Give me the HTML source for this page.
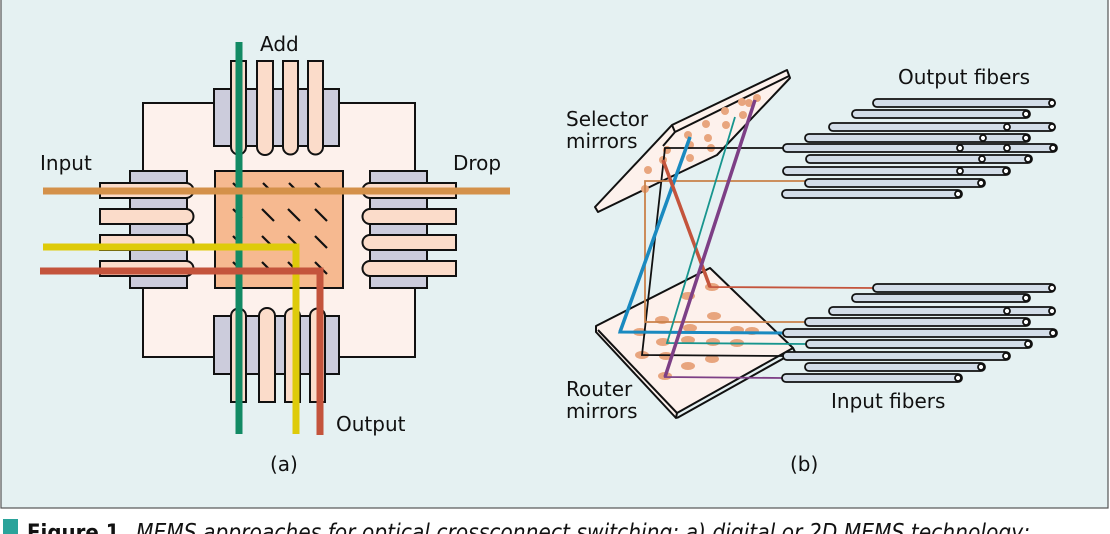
<!DOCTYPE html>
<html><head><meta charset="utf-8"><style>
html,body{margin:0;padding:0;background:#fff;}
svg{display:block}
text{font-family:"DejaVu Sans","Liberation Sans",sans-serif;}
</style></head><body>
<svg width="1110" height="534" viewBox="0 0 1110 534" xmlns="http://www.w3.org/2000/svg">
<rect x="1" y="-2" width="1107" height="510" fill="#e5f1f2" stroke="#555" stroke-width="1.2"/>
<!-- (a) -->
<g stroke="#111" stroke-width="2">
<rect x="143" y="103" width="272" height="254" fill="#fdf1ec"/>
<rect x="214" y="89" width="125" height="57" fill="#ccccdc"/>
<g fill="#fbdcca">
<path d="M231 61h15v86a7.5 7.5 0 0 1-15 0z"/><path d="M257 61h16v86a8 8 0 0 1-16 0z"/><path d="M283 61h15v86a7.5 7.5 0 0 1-15 0z"/><path d="M308 61h15v86a7.5 7.5 0 0 1-15 0z"/>
</g>
<rect x="214" y="316" width="125" height="58" fill="#ccccdc"/>
<g fill="#fbdcca">
<path d="M231 402h15v-86a7.5 7.5 0 0 0-15 0z"/><path d="M259 402h16v-86a8 8 0 0 0-16 0z"/><path d="M285 402h15v-86a7.5 7.5 0 0 0-15 0z"/><path d="M310 402h15v-86a7.5 7.5 0 0 0-15 0z"/>
</g>
<rect x="130" y="171" width="57" height="117" fill="#ccccdc"/>
<g fill="#fbdcca">
<path d="M100 183h86a7.5 7.5 0 0 1 0 15h-86z"/><path d="M100 209h86a7.5 7.5 0 0 1 0 15h-86z"/><path d="M100 235h86a7.5 7.5 0 0 1 0 15h-86z"/><path d="M100 261h86a7.5 7.5 0 0 1 0 15h-86z"/>
</g>
<rect x="370" y="171" width="57" height="117" fill="#ccccdc"/>
<g fill="#fbdcca">
<path d="M456 183h-86a7.5 7.5 0 0 0 0 15h86z"/><path d="M456 209h-86a7.5 7.5 0 0 0 0 15h86z"/><path d="M456 235h-86a7.5 7.5 0 0 0 0 15h86z"/><path d="M456 261h-86a7.5 7.5 0 0 0 0 15h86z"/>
</g>
<rect x="215" y="171" width="128" height="117" fill="#f6b990"/>
</g>
<g stroke="#111" stroke-width="2.2">
<path d="M233 183l9 9M263 183l9 9M289 183l9 9M315 183l9 9
M233 209l9 9M262 209l12 12M288 209l12 12M315 209l12 12
M233 236l9 9M262 236l9 9M288 236l9 9M315 236l12 12
M233 262l9 9M262 262l9 9M288 262l9 9M315 262l12 12"/>
</g>
<line x1="239" y1="42" x2="239" y2="434" stroke="#128a64" stroke-width="7"/>
<line x1="43" y1="191" x2="510" y2="191" stroke="#d4914a" stroke-width="7"/>
<polyline points="43,247 296,247 296,434" fill="none" stroke="#decb0a" stroke-width="7"/>
<polyline points="40,271 320,271 320,435" fill="none" stroke="#c4543c" stroke-width="7"/>
<g font-size="20" fill="#111">
<text x="260" y="51">Add</text>
<text x="40" y="170">Input</text>
<text x="453" y="170">Drop</text>
<text x="336" y="431">Output</text>
<text x="270" y="471">(a)</text>
<text x="790" y="471">(b)</text>
<text x="566" y="126">Selector</text>
<text x="566" y="148">mirrors</text>
<text x="566" y="396">Router</text>
<text x="566" y="418">mirrors</text>
<text x="898" y="84">Output fibers</text>
<text x="831" y="408">Input fibers</text>
</g>
<g stroke="#111" stroke-width="2" fill="#fdf1ec" stroke-linejoin="round">
<polygon points="595,207 672,125 787,70 790,78 717,155 660,182 598,212"/>
<path d="M672,125 L675,132 L789,76 M675,132 L663,146" fill="none"/>
</g>
<g stroke="#111" stroke-width="2" fill="#fdf1ec" stroke-linejoin="round">
<polygon points="596,326 710,268 793,348 677,413 676,418 596,332"/>
<path d="M598,330 L677,413 M677,418 L795,352 L793,348" fill="none"/>
</g>
<g fill="#e8a57e">
<circle cx="645" cy="189" r="4"/><circle cx="648" cy="170" r="4"/><circle cx="663" cy="160" r="4"/><circle cx="667" cy="150" r="4"/><circle cx="688" cy="135" r="4"/><circle cx="706" cy="124" r="4"/><circle cx="725" cy="111" r="4"/><circle cx="742" cy="102" r="4"/><circle cx="757" cy="98" r="4"/><circle cx="690" cy="158" r="4"/><circle cx="711" cy="148" r="4"/><circle cx="708" cy="138" r="4"/><circle cx="726" cy="125" r="4"/><circle cx="743" cy="115" r="4"/><circle cx="749" cy="103" r="4"/><circle cx="690" cy="145" r="4"/>
<ellipse cx="712" cy="287" rx="7" ry="4"/><ellipse cx="688" cy="296" rx="7" ry="4"/><ellipse cx="662" cy="320" rx="7" ry="4"/><ellipse cx="690" cy="328" rx="7" ry="4"/><ellipse cx="714" cy="316" rx="7" ry="4"/><ellipse cx="640" cy="332" rx="7" ry="4"/><ellipse cx="663" cy="342" rx="7" ry="4"/><ellipse cx="688" cy="340" rx="7" ry="4"/><ellipse cx="713" cy="342" rx="7" ry="4"/><ellipse cx="737" cy="330" rx="7" ry="4"/><ellipse cx="752" cy="331" rx="7" ry="4"/><ellipse cx="642" cy="355" rx="7" ry="4"/><ellipse cx="666" cy="356" rx="7" ry="4"/><ellipse cx="712" cy="359" rx="7" ry="4"/><ellipse cx="737" cy="343" rx="7" ry="4"/><ellipse cx="688" cy="366" rx="7" ry="4"/><ellipse cx="665" cy="376" rx="7" ry="4"/>
</g>
<g fill="none">
<polyline points="783,148 665,148 642,355 783,356" stroke="#111" stroke-width="1.8"/>
<polyline points="805,181 645,181 645,322 805,322" stroke="#c9814a" stroke-width="1.8"/>
<polyline points="690,137 620,332 783,333" stroke="#1a8ac0" stroke-width="3"/>
<line x1="620" y1="332" x2="690" y2="137" stroke="#1a8ac0" stroke-width="3.5"/>
<polyline points="663,160 710,287 873,288" stroke="#c4543c" stroke-width="1.8"/>
<line x1="663" y1="160" x2="710" y2="287" stroke="#c4543c" stroke-width="3.5"/>
<polyline points="735,117 667,343 806,344" stroke="#17958e" stroke-width="1.8"/>
<polyline points="755,100 665,377 782,378" stroke="#7d3f86" stroke-width="1.8"/>
<line x1="755" y1="100" x2="665" y2="377" stroke="#7d3f86" stroke-width="3.5"/>
</g>
<g stroke="#111" stroke-width="1.8" fill="#d3dde8">
<rect x="873" y="99" width="182" height="8" rx="4"/>
<rect x="852" y="110" width="178" height="8" rx="4"/>
<rect x="829" y="123" width="226" height="8" rx="4"/>
<rect x="805" y="134" width="225" height="8" rx="4"/>
<rect x="783" y="144" width="274" height="8" rx="4"/>
<rect x="806" y="155" width="226" height="8" rx="4"/>
<rect x="783" y="167" width="227" height="8" rx="4"/>
<rect x="805" y="179" width="180" height="8" rx="4"/>
<rect x="782" y="190" width="180" height="8" rx="4"/>
<g fill="#fff">
<circle cx="1052" cy="103" r="3"/><circle cx="1026" cy="114" r="3"/><circle cx="1052" cy="127" r="3"/><circle cx="1007" cy="127" r="3"/><circle cx="1026" cy="138" r="3"/><circle cx="983" cy="138" r="3"/><circle cx="1053" cy="148" r="3"/><circle cx="1007" cy="148" r="3"/><circle cx="960" cy="148" r="3"/><circle cx="1028" cy="159" r="3"/><circle cx="982" cy="159" r="3"/><circle cx="1006" cy="171" r="3"/><circle cx="960" cy="171" r="3"/><circle cx="981" cy="183" r="3"/><circle cx="958" cy="194" r="3"/>
</g>
<g transform="translate(0,185)">
<rect x="873" y="99" width="182" height="8" rx="4"/>
<rect x="852" y="109" width="178" height="8" rx="4"/>
<rect x="829" y="122" width="226" height="8" rx="4"/>
<rect x="805" y="133" width="225" height="8" rx="4"/>
<rect x="783" y="144" width="274" height="8" rx="4"/>
<rect x="806" y="155" width="226" height="8" rx="4"/>
<rect x="783" y="167" width="227" height="8" rx="4"/>
<rect x="805" y="178" width="180" height="8" rx="4"/>
<rect x="782" y="189" width="180" height="8" rx="4"/>
<g fill="#fff">
<circle cx="1052" cy="103" r="3"/><circle cx="1026" cy="113" r="3"/><circle cx="1052" cy="126" r="3"/><circle cx="1007" cy="126" r="3"/><circle cx="1026" cy="137" r="3"/><circle cx="1053" cy="148" r="3"/><circle cx="1028" cy="159" r="3"/><circle cx="1006" cy="171" r="3"/><circle cx="981" cy="182" r="3"/><circle cx="958" cy="193" r="3"/>
</g>
</g>
</g>
<rect x="3" y="519" width="15" height="15" fill="#2aa39a"/>
<text x="27" y="540" font-family="Liberation Sans" font-weight="bold" font-size="22" fill="#111" textLength="100" lengthAdjust="spacingAndGlyphs">Figure 1.</text>
<text x="136" y="540" font-family="Liberation Serif" font-style="italic" font-size="23" fill="#111" textLength="894" lengthAdjust="spacingAndGlyphs">MEMS approaches for optical crossconnect switching: a) digital or 2D MEMS technology;</text>
</svg>
</body></html>
